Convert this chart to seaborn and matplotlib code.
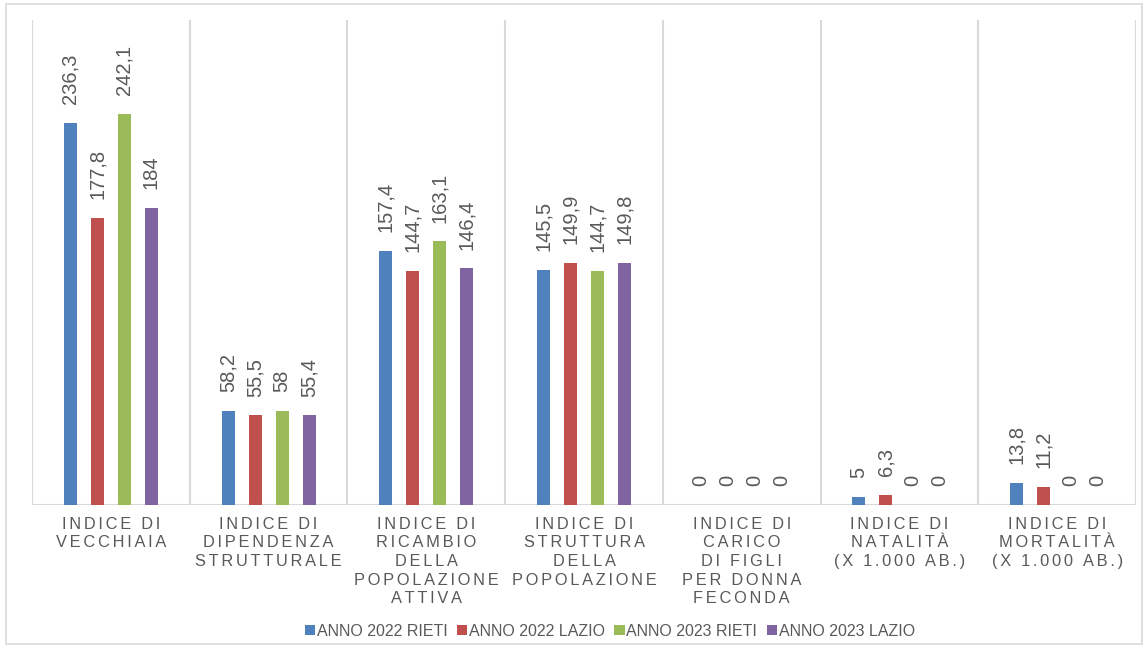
import matplotlib
matplotlib.use("Agg")
import matplotlib.pyplot as plt
from matplotlib.patches import Patch, Rectangle
import seaborn as sns
import pandas as pd

# --- data -------------------------------------------------------------
categories = [
    "INDICE DI\nVECCHIAIA",
    "INDICE DI\nDIPENDENZA\nSTRUTTURALE",
    "INDICE DI\nRICAMBIO\nDELLA\nPOPOLAZIONE\nATTIVA",
    "INDICE DI\nSTRUTTURA\nDELLA\nPOPOLAZIONE",
    "INDICE DI\nCARICO\nDI FIGLI\nPER DONNA\nFECONDA",
    "INDICE DI\nNATALITÀ\n(X 1.000 AB.)",
    "INDICE DI\nMORTALITÀ\n(X 1.000 AB.)",
]
series_names = ["ANNO 2022 RIETI", "ANNO 2022 LAZIO", "ANNO 2023 RIETI", "ANNO 2023 LAZIO"]
rieti_2022 = [236.3, 58.2, 157.4, 145.5, 0, 5, 13.8]
lazio_2022 = [177.8, 55.5, 144.7, 149.9, 0, 6.3, 11.2]
rieti_2023 = [242.1, 58, 163.1, 144.7, 0, 0, 0]
lazio_2023 = [184, 55.4, 146.4, 149.8, 0, 0, 0]
series_values = [rieti_2022, lazio_2022, rieti_2023, lazio_2023]
colors = ["#4F81BD", "#C0504D", "#9BBB59", "#8064A2"]

TEXT = "#595959"
GRID = "#D9D9D9"

rows = []
for name, vals in zip(series_names, series_values):
    for cat, v in zip(categories, vals):
        rows.append({"categoria": cat, "serie": name, "valore": v})
df = pd.DataFrame(rows)

sns.set_theme(style="white")
plt.rcParams["font.family"] = ["Liberation Sans", "DejaVu Sans"]

fig = plt.figure(figsize=(11.44, 6.46), dpi=100)
ax = fig.add_axes([32 / 1144, 1 - 505 / 646, (1136 - 32) / 1144, (505 - 20) / 646])

sns.barplot(
    data=df, x="categoria", y="valore", hue="serie",
    order=categories, hue_order=series_names, palette=colors,
    saturation=1, errorbar=None, width=0.685, gap=0.52,
    linewidth=0, ax=ax, legend=False,
)

ax.set_ylim(0, 300)
ax.set_xlim(-0.5, len(categories) - 0.5)

# value labels, Italian decimal comma
for cont in ax.containers:
    labels = [f"{v:g}".replace(".", ",") for v in cont.datavalues]
    ax.bar_label(cont, labels=labels, rotation=90, padding=13.5,
                 fontsize=14.5, color=TEXT)

# category separators and baseline
for b in range(len(categories) + 1):
    ax.axvline(b - 0.5, color=GRID, lw=1.5, zorder=0)
ax.axhline(0, color=GRID, lw=1.5, zorder=0)

for s in ax.spines.values():
    s.set_visible(False)
ax.set_yticks([])
ax.set_xlabel("")
ax.set_ylabel("")

# letter-spaced category labels (six-per-em space between letters)
GAP = "\u2006"
def spaced(text):
    return "\n".join(GAP.join(line) for line in text.split("\n"))

ax.set_xticks(range(len(categories)))
ax.set_xticklabels([spaced(c) for c in categories], fontsize=11.8,
                   color=TEXT, linespacing=1.3, va="top")
ax.tick_params(axis="x", length=0, pad=8.5)

# legend
handles = [Patch(facecolor=c, edgecolor="none") for c in colors]
fig.legend(handles, series_names, loc="center", bbox_to_anchor=(0.533, 1 - 631 / 646),
           ncol=4, frameon=False, fontsize=11.5, handlelength=0.65, handleheight=0.65,
           handletextpad=0.1, columnspacing=0.6, labelcolor=TEXT)

# outer chart border
fig.patches.append(Rectangle((6 / 1144, 2 / 646), (1142 - 6) / 1144, (642 - 2) / 646,
                             transform=fig.transFigure, fill=False,
                             edgecolor=GRID, lw=1.2))

fig.savefig("out.png", dpi=100)
